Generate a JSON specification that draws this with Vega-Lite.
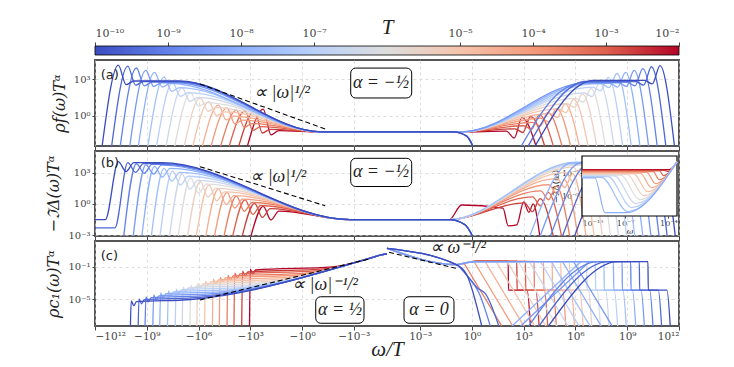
{
"$schema":"https://vega.github.io/schema/vega-lite/v6.json",
"background":"white",
"padding":{"left":44,"top":16,"right":5,"bottom":2},
"config":{"font":"DejaVu Serif","view":{"stroke":"#555","strokeWidth":2},
"axis":{"labelFont":"DejaVu Serif","labelFontSize":10,"labelColor":"#444","titleFont":"DejaVu Serif","titleFontWeight":"normal","titleColor":"#222","domain":false,"gridColor":"#cfcfcf","gridDash":[3,3],"gridWidth":0.7,"tickColor":"#444"}},
"datasets":{
"a":[
{"T":0.01,"s":"l","x":-1580,"y":0.0025},{"T":0.01,"s":"l","x":-178,"y":3.55},{"T":0.01,"s":"l","x":-63.1,"y":0.0282},{"T":0.01,"s":"l","x":-22.4,"y":0.0631},{"T":0.01,"s":"l","x":-0.072,"y":0.0501},{"T":0.01,"s":"l","x":0,"y":0.0501},
{"T":0.01,"s":"r","x":0,"y":0.0501},{"T":0.01,"s":"r","x":0.251,"y":0.0501},{"T":0.01,"s":"r","x":100,"y":0.0575},{"T":0.01,"s":"r","x":282,"y":0.0158},{"T":0.01,"s":"r","x":794,"y":0.724},{"T":0.01,"s":"r","x":5620,"y":0.0025},
{"T":0.00316,"s":"l","x":-5010,"y":0.0025},{"T":0.00316,"s":"l","x":-562,"y":2.57},{"T":0.00316,"s":"l","x":-200,"y":0.0407},{"T":0.00316,"s":"l","x":-70.8,"y":0.0813},{"T":0.00316,"s":"l","x":-0.072,"y":0.0501},{"T":0.00316,"s":"l","x":0,"y":0.0501},
{"T":0.00316,"s":"r","x":0,"y":0.0501},{"T":0.00316,"s":"r","x":0.251,"y":0.0501},{"T":0.00316,"s":"r","x":316,"y":0.0891},{"T":0.00316,"s":"r","x":891,"y":0.0447},{"T":0.00316,"s":"r","x":2510,"y":0.891},{"T":0.00316,"s":"r","x":17800,"y":0.0025},
{"T":0.001,"s":"l","x":-17800,"y":0.0025},{"T":0.001,"s":"l","x":-2000,"y":2.63},{"T":0.001,"s":"l","x":-708,"y":0.0661},{"T":0.001,"s":"l","x":-251,"y":0.132},{"T":0.001,"s":"l","x":-0.072,"y":0.0501},{"T":0.001,"s":"l","x":0,"y":0.0501},
{"T":0.001,"s":"r","x":0,"y":0.0501},{"T":0.001,"s":"r","x":0.251,"y":0.0501},{"T":0.001,"s":"r","x":1000,"y":0.158},{"T":0.001,"s":"r","x":2820,"y":0.0794},{"T":0.001,"s":"r","x":7940,"y":1.26},{"T":0.001,"s":"r","x":56200,"y":0.0025},
{"T":3.16e-4,"s":"l","x":-56200,"y":0.0025},{"T":3.16e-4,"s":"l","x":-6310,"y":2.95},{"T":3.16e-4,"s":"l","x":-2240,"y":0.117},{"T":3.16e-4,"s":"l","x":-794,"y":0.234},{"T":3.16e-4,"s":"l","x":-0.072,"y":0.0501},{"T":3.16e-4,"s":"l","x":0,"y":0.0501},
{"T":3.16e-4,"s":"r","x":0,"y":0.0501},{"T":3.16e-4,"s":"r","x":0.251,"y":0.0501},{"T":3.16e-4,"s":"r","x":3160,"y":0.302},{"T":3.16e-4,"s":"r","x":8910,"y":0.151},{"T":3.16e-4,"s":"r","x":25100,"y":1.91},{"T":3.16e-4,"s":"r","x":178000,"y":0.0025},
{"T":1e-4,"s":"l","x":-200000,"y":0.0025},{"T":1e-4,"s":"l","x":-22400,"y":4.57},{"T":1e-4,"s":"l","x":-7940,"y":0.229},{"T":1e-4,"s":"l","x":-2820,"y":0.457},{"T":1e-4,"s":"l","x":-0.072,"y":0.0501},{"T":1e-4,"s":"l","x":0,"y":0.0501},
{"T":1e-4,"s":"r","x":0,"y":0.0501},{"T":1e-4,"s":"r","x":0.251,"y":0.0501},{"T":1e-4,"s":"r","x":10000,"y":0.646},{"T":1e-4,"s":"r","x":28200,"y":0.324},{"T":1e-4,"s":"r","x":79400,"y":4.07},{"T":1e-4,"s":"r","x":562000,"y":0.0025},
{"T":3.16e-5,"s":"l","x":-631000,"y":0.0025},{"T":3.16e-5,"s":"l","x":-70800,"y":7.41},{"T":3.16e-5,"s":"l","x":-25100,"y":0.468},{"T":3.16e-5,"s":"l","x":-8910,"y":0.933},{"T":3.16e-5,"s":"l","x":-0.072,"y":0.0501},{"T":3.16e-5,"s":"l","x":0,"y":0.0501},
{"T":3.16e-5,"s":"r","x":0,"y":0.0501},{"T":3.16e-5,"s":"r","x":0.251,"y":0.0501},{"T":3.16e-5,"s":"r","x":31600,"y":1.51},{"T":3.16e-5,"s":"r","x":89100,"y":0.759},{"T":3.16e-5,"s":"r","x":251000,"y":9.55},{"T":3.16e-5,"s":"r","x":1780000,"y":0.0025},
{"T":1e-5,"s":"l","x":-2240000,"y":0.0025},{"T":1e-5,"s":"l","x":-251000,"y":14.8},{"T":1e-5,"s":"l","x":-89100,"y":1.05},{"T":1e-5,"s":"l","x":-31600,"y":2.09},{"T":1e-5,"s":"l","x":-0.072,"y":0.0501},{"T":1e-5,"s":"l","x":0,"y":0.0501},
{"T":1e-5,"s":"r","x":0,"y":0.0501},{"T":1e-5,"s":"r","x":0.251,"y":0.0501},{"T":1e-5,"s":"r","x":100000,"y":3.72},{"T":1e-5,"s":"r","x":282000,"y":1.86},{"T":1e-5,"s":"r","x":794000,"y":23.4},{"T":1e-5,"s":"r","x":5620000,"y":0.0025},
{"T":3.16e-6,"s":"l","x":-7080000,"y":0.0025},{"T":3.16e-6,"s":"l","x":-794000,"y":30.2},{"T":3.16e-6,"s":"l","x":-282000,"y":2.4},{"T":3.16e-6,"s":"l","x":-100000,"y":4.79},{"T":3.16e-6,"s":"l","x":-0.072,"y":0.0501},{"T":3.16e-6,"s":"l","x":0,"y":0.0501},
{"T":3.16e-6,"s":"r","x":0,"y":0.0501},{"T":3.16e-6,"s":"r","x":0.251,"y":0.0501},{"T":3.16e-6,"s":"r","x":316000,"y":9.77},{"T":3.16e-6,"s":"r","x":891000,"y":4.9},{"T":3.16e-6,"s":"r","x":2510000,"y":61.7},{"T":3.16e-6,"s":"r","x":17800000,"y":0.0025},
{"T":1e-6,"s":"l","x":-2.51e7,"y":0.0025},{"T":1e-6,"s":"l","x":-2.82e6,"y":75.9},{"T":1e-6,"s":"l","x":-1e6,"y":6.03},{"T":1e-6,"s":"l","x":-355000,"y":12},{"T":1e-6,"s":"l","x":-0.072,"y":0.0501},{"T":1e-6,"s":"l","x":0,"y":0.0501},
{"T":1e-6,"s":"r","x":0,"y":0.0501},{"T":1e-6,"s":"r","x":0.251,"y":0.0501},{"T":1e-6,"s":"r","x":1e6,"y":26.9},{"T":1e-6,"s":"r","x":2.82e6,"y":13.5},{"T":1e-6,"s":"r","x":7.94e6,"y":170},{"T":1e-6,"s":"r","x":5.62e7,"y":0.0025},
{"T":3.16e-7,"s":"l","x":-7.94e7,"y":0.0025},{"T":3.16e-7,"s":"l","x":-8.91e6,"y":191},{"T":3.16e-7,"s":"l","x":-3.16e6,"y":15.1},{"T":3.16e-7,"s":"l","x":-1.12e6,"y":30.2},{"T":3.16e-7,"s":"l","x":-0.072,"y":0.0501},{"T":3.16e-7,"s":"l","x":0,"y":0.0501},
{"T":3.16e-7,"s":"r","x":0,"y":0.0501},{"T":3.16e-7,"s":"r","x":0.251,"y":0.0501},{"T":3.16e-7,"s":"r","x":3.16e6,"y":75.9},{"T":3.16e-7,"s":"r","x":8.91e6,"y":38},{"T":3.16e-7,"s":"r","x":2.51e7,"y":479},{"T":3.16e-7,"s":"r","x":1.78e8,"y":0.0025},
{"T":1e-7,"s":"l","x":-2.82e8,"y":0.0025},{"T":1e-7,"s":"l","x":-3.16e7,"y":501},{"T":1e-7,"s":"l","x":-1.12e7,"y":39.8},{"T":1e-7,"s":"l","x":-3.98e6,"y":79.4},{"T":1e-7,"s":"l","x":-0.072,"y":0.0501},{"T":1e-7,"s":"l","x":0,"y":0.0501},
{"T":1e-7,"s":"r","x":0,"y":0.0501},{"T":1e-7,"s":"r","x":0.251,"y":0.0501},{"T":1e-7,"s":"r","x":1e7,"y":219},{"T":1e-7,"s":"r","x":2.82e7,"y":110},{"T":1e-7,"s":"r","x":7.94e7,"y":1380},{"T":1e-7,"s":"r","x":5.62e8,"y":0.0025},
{"T":3.16e-8,"s":"l","x":-8.91e8,"y":0.0025},{"T":3.16e-8,"s":"l","x":-1e8,"y":1413},{"T":3.16e-8,"s":"l","x":-3.55e7,"y":100},{"T":3.16e-8,"s":"l","x":-1.26e7,"y":200},{"T":3.16e-8,"s":"l","x":-0.072,"y":0.0501},{"T":3.16e-8,"s":"l","x":0,"y":0.0501},
{"T":3.16e-8,"s":"r","x":0,"y":0.0501},{"T":3.16e-8,"s":"r","x":0.251,"y":0.0501},{"T":3.16e-8,"s":"r","x":1.26e7,"y":398},{"T":3.16e-8,"s":"r","x":3.16e7,"y":398},{"T":3.16e-8,"s":"r","x":8.91e7,"y":200},{"T":3.16e-8,"s":"r","x":2.51e8,"y":2818},{"T":3.16e-8,"s":"r","x":1.78e9,"y":0.0025},
{"T":1e-8,"s":"l","x":-3.16e9,"y":0.0025},{"T":1e-8,"s":"l","x":-3.55e8,"y":3548},{"T":1e-8,"s":"l","x":-1.26e8,"y":224},{"T":1e-8,"s":"l","x":-4.47e7,"y":447},{"T":1e-8,"s":"l","x":-0.072,"y":0.0501},{"T":1e-8,"s":"l","x":0,"y":0.0501},
{"T":1e-8,"s":"r","x":0,"y":0.0501},{"T":1e-8,"s":"r","x":0.251,"y":0.0501},{"T":1e-8,"s":"r","x":7.08e6,"y":447},{"T":1e-8,"s":"r","x":1e8,"y":447},{"T":1e-8,"s":"r","x":2.82e8,"y":224},{"T":1e-8,"s":"r","x":7.94e8,"y":3548},{"T":1e-8,"s":"r","x":5.62e9,"y":0.0025},
{"T":3.16e-9,"s":"l","x":-1e10,"y":0.0025},{"T":3.16e-9,"s":"l","x":-1.12e9,"y":5012},{"T":3.16e-9,"s":"l","x":-3.98e8,"y":251},{"T":3.16e-9,"s":"l","x":-1.41e8,"y":501},{"T":3.16e-9,"s":"l","x":-2e7,"y":501},{"T":3.16e-9,"s":"l","x":-0.072,"y":0.0501},{"T":3.16e-9,"s":"l","x":0,"y":0.0501},
{"T":3.16e-9,"s":"r","x":0,"y":0.0501},{"T":3.16e-9,"s":"r","x":0.251,"y":0.0501},{"T":3.16e-9,"s":"r","x":4.47e6,"y":501},{"T":3.16e-9,"s":"r","x":3.16e8,"y":501},{"T":3.16e-9,"s":"r","x":8.91e8,"y":251},{"T":3.16e-9,"s":"r","x":2.51e9,"y":5012},{"T":3.16e-9,"s":"r","x":1.78e10,"y":0.0025},
{"T":1e-9,"s":"l","x":-3.55e10,"y":0.0025},{"T":1e-9,"s":"l","x":-3.98e9,"y":7943},{"T":1e-9,"s":"l","x":-1.41e9,"y":282},{"T":1e-9,"s":"l","x":-5.01e8,"y":562},{"T":1e-9,"s":"l","x":-1.41e7,"y":562},{"T":1e-9,"s":"l","x":-0.072,"y":0.0501},{"T":1e-9,"s":"l","x":0,"y":0.0501},
{"T":1e-9,"s":"r","x":0,"y":0.0501},{"T":1e-9,"s":"r","x":0.079,"y":0.0501},{"T":1e-9,"s":"r","x":0.5,"y":0.0224},{"T":1e-9,"s":"r","x":1.26,"y":0.0025},
{"T":1e-9,"s":"g","x":631,"y":0.0025},{"T":1e-9,"s":"g","x":1.26e5,"y":89.1},{"T":1e-9,"s":"g","x":3.98e6,"y":562},{"T":1e-9,"s":"g","x":1e9,"y":562},{"T":1e-9,"s":"g","x":2.82e9,"y":282},{"T":1e-9,"s":"g","x":7.94e9,"y":7079},{"T":1e-9,"s":"g","x":5.62e10,"y":0.0025},
{"T":3.16e-10,"s":"l","x":-1.12e11,"y":0.0025},{"T":3.16e-10,"s":"l","x":-1.26e10,"y":11200},{"T":3.16e-10,"s":"l","x":-4.47e9,"y":316},{"T":3.16e-10,"s":"l","x":-1.58e9,"y":631},{"T":3.16e-10,"s":"l","x":-1.26e7,"y":631},{"T":3.16e-10,"s":"l","x":-0.072,"y":0.0501},{"T":3.16e-10,"s":"l","x":0,"y":0.0501},
{"T":3.16e-10,"s":"r","x":0,"y":0.0501},{"T":3.16e-10,"s":"r","x":0.079,"y":0.0501},{"T":3.16e-10,"s":"r","x":0.5,"y":0.0224},{"T":3.16e-10,"s":"r","x":1.26,"y":0.0025},
{"T":3.16e-10,"s":"g","x":1580,"y":0.0025},{"T":3.16e-10,"s":"g","x":5.01e5,"y":200},{"T":3.16e-10,"s":"g","x":3.16e6,"y":631},{"T":3.16e-10,"s":"g","x":3.16e9,"y":631},{"T":3.16e-10,"s":"g","x":8.91e9,"y":316},{"T":3.16e-10,"s":"g","x":2.51e10,"y":10000},{"T":3.16e-10,"s":"g","x":1.78e11,"y":0.0025},
{"T":1e-10,"s":"l","x":-3.98e11,"y":0.0025},{"T":1e-10,"s":"l","x":-4.47e10,"y":13800},{"T":1e-10,"s":"l","x":-1.58e10,"y":347},{"T":1e-10,"s":"l","x":-5.62e9,"y":692},{"T":1e-10,"s":"l","x":-1.41e7,"y":692},{"T":1e-10,"s":"l","x":-0.072,"y":0.0501},{"T":1e-10,"s":"l","x":0,"y":0.0501},
{"T":1e-10,"s":"r","x":0,"y":0.0501},{"T":1e-10,"s":"r","x":0.079,"y":0.0501},{"T":1e-10,"s":"r","x":0.5,"y":0.0224},{"T":1e-10,"s":"r","x":1.26,"y":0.0025},
{"T":1e-10,"s":"g","x":3980,"y":0.0025},{"T":1e-10,"s":"g","x":2e6,"y":355},{"T":1e-10,"s":"g","x":1e7,"y":794},{"T":1e-10,"s":"g","x":1e10,"y":794},{"T":1e-10,"s":"g","x":2.82e10,"y":398},{"T":1e-10,"s":"g","x":7.94e10,"y":12600},{"T":1e-10,"s":"g","x":5.62e11,"y":0.0025}
],
"b":[
{"T":0.01,"s":"l","x":-1000,"y":0.0005},{"T":0.01,"s":"l","x":-178,"y":0.575},{"T":0.01,"s":"l","x":-63.1,"y":0.0295},{"T":0.01,"s":"l","x":-22.4,"y":0.209},{"T":0.01,"s":"l","x":-0.00174,"y":0.0316},{"T":0.01,"s":"l","x":0,"y":0.0316},
{"T":0.01,"s":"r","x":0,"y":0.0316},{"T":0.01,"s":"r","x":0.05,"y":0.0316},{"T":0.01,"s":"r","x":0.251,"y":0.794},{"T":0.01,"s":"r","x":63.1,"y":0.398},{"T":0.01,"s":"r","x":126,"y":0.00794},{"T":0.01,"s":"r","x":398,"y":0.01},{"T":0.01,"s":"r","x":1000,"y":1.58},{"T":0.01,"s":"r","x":2000,"y":0.158},{"T":0.01,"s":"r","x":3550,"y":1.0},{"T":0.01,"s":"r","x":8910,"y":0.0005},
{"T":0.00316,"s":"l","x":-3160,"y":0.0005},{"T":0.00316,"s":"l","x":-562,"y":1.12},{"T":0.00316,"s":"l","x":-200,"y":0.0513},{"T":0.00316,"s":"l","x":-70.8,"y":0.363},{"T":0.00316,"s":"l","x":-0.00174,"y":0.0316},{"T":0.00316,"s":"l","x":0,"y":0.0316},
{"T":0.00316,"s":"r","x":0,"y":0.0316},{"T":0.00316,"s":"r","x":0.05,"y":0.0316},{"T":0.00316,"s":"r","x":1120,"y":1.29},{"T":0.00316,"s":"r","x":3160,"y":0.182},{"T":0.00316,"s":"r","x":8910,"y":3.16},{"T":0.00316,"s":"r","x":56200,"y":0.0005},
{"T":0.001,"s":"l","x":-11200,"y":0.0005},{"T":0.001,"s":"l","x":-2000,"y":2.51},{"T":0.001,"s":"l","x":-708,"y":0.1},{"T":0.001,"s":"l","x":-251,"y":0.708},{"T":0.001,"s":"l","x":-0.00174,"y":0.0316},{"T":0.001,"s":"l","x":0,"y":0.0316},
{"T":0.001,"s":"r","x":0,"y":0.0316},{"T":0.001,"s":"r","x":0.05,"y":0.0316},{"T":0.001,"s":"r","x":3310,"y":4.68},{"T":0.001,"s":"r","x":9330,"y":0.661},{"T":0.001,"s":"r","x":26300,"y":12.6},{"T":0.001,"s":"r","x":166000,"y":0.0005},
{"T":3.16e-4,"s":"l","x":-35500,"y":0.0005},{"T":3.16e-4,"s":"l","x":-6310,"y":5.62},{"T":3.16e-4,"s":"l","x":-2240,"y":0.195},{"T":3.16e-4,"s":"l","x":-794,"y":1.38},{"T":3.16e-4,"s":"l","x":-0.00174,"y":0.0316},{"T":3.16e-4,"s":"l","x":0,"y":0.0316},
{"T":3.16e-4,"s":"r","x":0,"y":0.0316},{"T":3.16e-4,"s":"r","x":0.05,"y":0.0316},{"T":3.16e-4,"s":"r","x":9770,"y":17.8},{"T":3.16e-4,"s":"r","x":27500,"y":2.51},{"T":3.16e-4,"s":"r","x":77600,"y":50.1},{"T":3.16e-4,"s":"r","x":490000,"y":0.0005},
{"T":1e-4,"s":"l","x":-126000,"y":0.0005},{"T":1e-4,"s":"l","x":-22400,"y":12.6},{"T":1e-4,"s":"l","x":-7940,"y":0.407},{"T":1e-4,"s":"l","x":-2820,"y":2.88},{"T":1e-4,"s":"l","x":-0.00174,"y":0.0316},{"T":1e-4,"s":"l","x":0,"y":0.0316},
{"T":1e-4,"s":"r","x":0,"y":0.0316},{"T":1e-4,"s":"r","x":0.05,"y":0.0316},{"T":1e-4,"s":"r","x":28800,"y":69.2},{"T":1e-4,"s":"r","x":81300,"y":9.77},{"T":1e-4,"s":"r","x":229000,"y":200},{"T":1e-4,"s":"r","x":1450000,"y":0.0005},
{"T":3.16e-5,"s":"l","x":-398000,"y":0.0005},{"T":3.16e-5,"s":"l","x":-70800,"y":28.2},{"T":3.16e-5,"s":"l","x":-25100,"y":0.871},{"T":3.16e-5,"s":"l","x":-8910,"y":6.17},{"T":3.16e-5,"s":"l","x":-0.00174,"y":0.0316},{"T":3.16e-5,"s":"l","x":0,"y":0.0316},
{"T":3.16e-5,"s":"r","x":0,"y":0.0316},{"T":3.16e-5,"s":"r","x":0.05,"y":0.0316},{"T":3.16e-5,"s":"r","x":85100,"y":263},{"T":3.16e-5,"s":"r","x":240000,"y":37.2},{"T":3.16e-5,"s":"r","x":676000,"y":794},{"T":3.16e-5,"s":"r","x":4270000,"y":0.0005},
{"T":1e-5,"s":"l","x":-1410000,"y":0.0005},{"T":1e-5,"s":"l","x":-251000,"y":63.1},{"T":1e-5,"s":"l","x":-89100,"y":2.0},{"T":1e-5,"s":"l","x":-31600,"y":14.1},{"T":1e-5,"s":"l","x":-0.00174,"y":0.0316},{"T":1e-5,"s":"l","x":0,"y":0.0316},
{"T":1e-5,"s":"r","x":0,"y":0.0316},{"T":1e-5,"s":"r","x":0.05,"y":0.0316},{"T":1e-5,"s":"r","x":251000,"y":977},{"T":1e-5,"s":"r","x":708000,"y":138},{"T":1e-5,"s":"r","x":2e6,"y":2512},{"T":1e-5,"s":"r","x":1.26e7,"y":0.0005},
{"T":3.16e-6,"s":"l","x":-4470000,"y":0.0005},{"T":3.16e-6,"s":"l","x":-794000,"y":141},{"T":3.16e-6,"s":"l","x":-282000,"y":4.47},{"T":3.16e-6,"s":"l","x":-100000,"y":31.6},{"T":3.16e-6,"s":"l","x":-0.00174,"y":0.0316},{"T":3.16e-6,"s":"l","x":0,"y":0.0316},
{"T":3.16e-6,"s":"r","x":0,"y":0.0316},{"T":3.16e-6,"s":"r","x":0.05,"y":0.0316},{"T":3.16e-6,"s":"r","x":741000,"y":3311},{"T":3.16e-6,"s":"r","x":2.09e6,"y":468},{"T":3.16e-6,"s":"r","x":5.89e6,"y":7943},{"T":3.16e-6,"s":"r","x":3.72e7,"y":0.0005},
{"T":1e-6,"s":"l","x":-1.58e7,"y":0.0005},{"T":1e-6,"s":"l","x":-2.82e6,"y":316},{"T":1e-6,"s":"l","x":-1e6,"y":11},{"T":1e-6,"s":"l","x":-355000,"y":77.6},{"T":1e-6,"s":"l","x":-0.00174,"y":0.0316},{"T":1e-6,"s":"l","x":0,"y":0.0316},
{"T":1e-6,"s":"r","x":0,"y":0.0316},{"T":1e-6,"s":"r","x":0.05,"y":0.0316},{"T":1e-6,"s":"r","x":832000,"y":5012},{"T":1e-6,"s":"r","x":2.19e6,"y":5012},{"T":1e-6,"s":"r","x":6.17e6,"y":708},{"T":1e-6,"s":"r","x":1.74e7,"y":12600},{"T":1e-6,"s":"r","x":1.1e8,"y":0.0005},
{"T":3.16e-7,"s":"l","x":-5.01e7,"y":0.0005},{"T":3.16e-7,"s":"l","x":-8.91e6,"y":708},{"T":3.16e-7,"s":"l","x":-3.16e6,"y":25.7},{"T":3.16e-7,"s":"l","x":-1.12e6,"y":182},{"T":3.16e-7,"s":"l","x":-0.00174,"y":0.0316},{"T":3.16e-7,"s":"l","x":0,"y":0.0316},
{"T":3.16e-7,"s":"r","x":0,"y":0.0316},{"T":3.16e-7,"s":"r","x":0.05,"y":0.0316},{"T":3.16e-7,"s":"r","x":724000,"y":6310},{"T":3.16e-7,"s":"r","x":6.46e6,"y":6310},{"T":3.16e-7,"s":"r","x":1.82e7,"y":891},{"T":3.16e-7,"s":"r","x":5.13e7,"y":15800},{"T":3.16e-7,"s":"r","x":3.24e8,"y":0.0005},
{"T":1e-7,"s":"l","x":-1.78e8,"y":0.0005},{"T":1e-7,"s":"l","x":-3.16e7,"y":1413},{"T":1e-7,"s":"l","x":-1.12e7,"y":63.1},{"T":1e-7,"s":"l","x":-3.98e6,"y":447},{"T":1e-7,"s":"l","x":-0.00174,"y":0.0316},{"T":1e-7,"s":"l","x":0,"y":0.0316},
{"T":1e-7,"s":"r","x":0,"y":0.0316},{"T":1e-7,"s":"r","x":0.05,"y":0.0316},{"T":1e-7,"s":"r","x":794000,"y":7943},{"T":1e-7,"s":"r","x":1.91e7,"y":7943},{"T":1e-7,"s":"r","x":5.37e7,"y":1122},{"T":1e-7,"s":"r","x":1.51e8,"y":20000},{"T":1e-7,"s":"r","x":9.55e8,"y":0.0005},
{"T":3.16e-8,"s":"l","x":-5.62e8,"y":0.0005},{"T":3.16e-8,"s":"l","x":-1e8,"y":2512},{"T":3.16e-8,"s":"l","x":-3.55e7,"y":151},{"T":3.16e-8,"s":"l","x":-1.26e7,"y":1072},{"T":3.16e-8,"s":"l","x":-0.00174,"y":0.0316},{"T":3.16e-8,"s":"l","x":0,"y":0.0316},
{"T":3.16e-8,"s":"r","x":0,"y":0.0316},{"T":3.16e-8,"s":"r","x":0.05,"y":0.0316},{"T":3.16e-8,"s":"r","x":1.07e6,"y":10000},{"T":3.16e-8,"s":"r","x":5.62e7,"y":10000},{"T":3.16e-8,"s":"r","x":1.58e8,"y":1413},{"T":3.16e-8,"s":"r","x":4.47e8,"y":25100},{"T":3.16e-8,"s":"r","x":2.82e9,"y":0.0005},
{"T":1e-8,"s":"l","x":-2e9,"y":0.0005},{"T":1e-8,"s":"l","x":-3.55e8,"y":3981},{"T":1e-8,"s":"l","x":-1.26e8,"y":363},{"T":1e-8,"s":"l","x":-4.47e7,"y":2570},{"T":1e-8,"s":"l","x":-0.00174,"y":0.0316},{"T":1e-8,"s":"l","x":0,"y":0.0316},
{"T":1e-8,"s":"r","x":0,"y":0.0316},{"T":1e-8,"s":"r","x":0.05,"y":0.0316},{"T":1e-8,"s":"r","x":0.398,"y":0.01},{"T":1e-8,"s":"r","x":1.26,"y":0.0005},
{"T":1e-8,"s":"g","x":2000,"y":0.0005},{"T":1e-8,"s":"g","x":562000,"y":7943},{"T":1e-8,"s":"g","x":1.66e8,"y":7943},{"T":1e-8,"s":"g","x":4.68e8,"y":1122},{"T":1e-8,"s":"g","x":1.32e9,"y":15800},{"T":1e-8,"s":"g","x":8.32e9,"y":0.0005},
{"T":3.16e-9,"s":"l","x":-6.31e9,"y":0.0005},{"T":3.16e-9,"s":"l","x":-1.12e9,"y":5623},{"T":3.16e-9,"s":"l","x":-3.98e8,"y":724},{"T":3.16e-9,"s":"l","x":-1.41e8,"y":5129},{"T":3.16e-9,"s":"l","x":-0.00174,"y":0.0316},{"T":3.16e-9,"s":"l","x":0,"y":0.0316},
{"T":3.16e-9,"s":"r","x":0,"y":0.0316},{"T":3.16e-9,"s":"r","x":0.05,"y":0.0316},{"T":3.16e-9,"s":"r","x":0.398,"y":0.01},{"T":3.16e-9,"s":"r","x":1.26,"y":0.0005},
{"T":3.16e-9,"s":"g","x":7940,"y":0.0005},{"T":3.16e-9,"s":"g","x":2.24e6,"y":8913},{"T":3.16e-9,"s":"g","x":4.9e8,"y":8913},{"T":3.16e-9,"s":"g","x":1.38e9,"y":1259},{"T":3.16e-9,"s":"g","x":3.89e9,"y":17800},{"T":3.16e-9,"s":"g","x":2.45e10,"y":0.0005},
{"T":1e-9,"s":"l","x":-2.24e10,"y":0.0005},{"T":1e-9,"s":"l","x":-3.98e9,"y":7079},{"T":1e-9,"s":"l","x":-1.41e9,"y":871},{"T":1e-9,"s":"l","x":-5.01e8,"y":6166},{"T":1e-9,"s":"l","x":-1.02e8,"y":6166},{"T":1e-9,"s":"l","x":-0.00174,"y":0.0316},{"T":1e-9,"s":"l","x":0,"y":0.0316},
{"T":1e-9,"s":"r","x":0,"y":0.0316},{"T":1e-9,"s":"r","x":0.05,"y":0.0316},{"T":1e-9,"s":"r","x":0.398,"y":0.01},{"T":1e-9,"s":"r","x":1.26,"y":0.0005},
{"T":1e-9,"s":"g","x":31600,"y":0.0005},{"T":1e-9,"s":"g","x":8.91e6,"y":10000},{"T":1e-9,"s":"g","x":1.45e9,"y":10000},{"T":1e-9,"s":"g","x":4.07e9,"y":1413},{"T":1e-9,"s":"g","x":1.15e10,"y":20000},{"T":1e-9,"s":"g","x":7.24e10,"y":0.0005},
{"T":3.16e-10,"s":"l","x":-1e12,"y":0.00501},{"T":3.16e-10,"s":"l","x":-7.08e10,"y":0.00501},{"T":3.16e-10,"s":"l","x":-1.26e10,"y":8913},{"T":3.16e-10,"s":"l","x":-4.47e9,"y":1047},{"T":3.16e-10,"s":"l","x":-1.58e9,"y":7413},{"T":3.16e-10,"s":"l","x":-1.1e8,"y":7413},{"T":3.16e-10,"s":"l","x":-0.00174,"y":0.0316},{"T":3.16e-10,"s":"l","x":0,"y":0.0316},
{"T":3.16e-10,"s":"r","x":0,"y":0.0316},{"T":3.16e-10,"s":"r","x":0.05,"y":0.0316},{"T":3.16e-10,"s":"r","x":0.398,"y":0.01},{"T":3.16e-10,"s":"r","x":1.26,"y":0.0005},
{"T":3.16e-10,"s":"g","x":158000,"y":0.0005},{"T":3.16e-10,"s":"g","x":4.47e7,"y":10000},{"T":3.16e-10,"s":"g","x":4.27e9,"y":10000},{"T":3.16e-10,"s":"g","x":1.2e10,"y":1413},{"T":3.16e-10,"s":"g","x":3.39e10,"y":20000},{"T":3.16e-10,"s":"g","x":2.14e11,"y":0.0005},
{"T":1e-10,"s":"l","x":-1e12,"y":0.0316},{"T":1e-10,"s":"l","x":-2.51e11,"y":0.0316},{"T":1e-10,"s":"l","x":-4.47e10,"y":11200},{"T":1e-10,"s":"l","x":-1.58e10,"y":1259},{"T":1e-10,"s":"l","x":-5.62e9,"y":8913},{"T":1e-10,"s":"l","x":-1.38e8,"y":8913},{"T":1e-10,"s":"l","x":-0.00174,"y":0.0316},{"T":1e-10,"s":"l","x":0,"y":0.0316},
{"T":1e-10,"s":"r","x":0,"y":0.0316},{"T":1e-10,"s":"r","x":0.05,"y":0.0316},{"T":1e-10,"s":"r","x":0.398,"y":0.01},{"T":1e-10,"s":"r","x":1.26,"y":0.0005},
{"T":1e-10,"s":"g","x":794000,"y":0.0005},{"T":1e-10,"s":"g","x":2.24e8,"y":10000},{"T":1e-10,"s":"g","x":1.26e10,"y":10000},{"T":1e-10,"s":"g","x":3.55e10,"y":1413},{"T":1e-10,"s":"g","x":1e11,"y":20000},{"T":1e-10,"s":"g","x":6.31e11,"y":0.0005}
],
"ins":[
{"T":0.01,"x":1e-10,"y":6.31e-4},{"T":0.01,"x":1.15e-4,"y":6.31e-4},{"T":0.01,"x":3.98e-4,"y":0.0288},
{"T":0.00316,"x":1e-10,"y":4.47e-4},{"T":0.00316,"x":5.01e-5,"y":4.47e-4},{"T":0.00316,"x":1e-4,"y":2.51e-4},{"T":0.00316,"x":3.98e-4,"y":0.0288},
{"T":0.001,"x":1e-10,"y":3.16e-4},{"T":0.001,"x":2.51e-5,"y":3.16e-4},{"T":0.001,"x":4.47e-5,"y":3.24e-5},{"T":0.001,"x":3.98e-4,"y":0.0288},
{"T":3.16e-4,"x":1e-10,"y":2.24e-4},{"T":3.16e-4,"x":8.91e-6,"y":2.24e-4},{"T":3.16e-4,"x":2.34e-5,"y":4.47e-6},{"T":3.16e-4,"x":3.98e-4,"y":0.0288},
{"T":1e-4,"x":1e-10,"y":1.58e-4},{"T":1e-4,"x":3.16e-6,"y":1.58e-4},{"T":1e-4,"x":1.26e-5,"y":6.46e-7},{"T":1e-4,"x":3.98e-4,"y":0.0288},
{"T":3.16e-5,"x":1e-10,"y":1.12e-4},{"T":3.16e-5,"x":1.12e-6,"y":1.12e-4},{"T":3.16e-5,"x":6.61e-6,"y":8.91e-8},{"T":3.16e-5,"x":3.98e-4,"y":0.0288},
{"T":1e-5,"x":1e-10,"y":7.94e-5},{"T":1e-5,"x":3.98e-7,"y":7.94e-5},{"T":1e-5,"x":3.55e-6,"y":1.26e-8},{"T":1e-5,"x":3.98e-4,"y":0.0288},
{"T":3.16e-6,"x":1e-10,"y":5.62e-5},{"T":3.16e-6,"x":1.41e-7,"y":5.62e-5},{"T":3.16e-6,"x":1.91e-6,"y":1.78e-9},{"T":3.16e-6,"x":3.98e-4,"y":0.0288},
{"T":1e-6,"x":1e-10,"y":3.98e-5},{"T":1e-6,"x":5.01e-8,"y":3.98e-5},{"T":1e-6,"x":1e-6,"y":2.51e-10},{"T":1e-6,"x":3.98e-4,"y":0.0288},
{"T":3.16e-7,"x":1e-10,"y":2.82e-5},{"T":3.16e-7,"x":1.78e-8,"y":2.82e-5},{"T":3.16e-7,"x":5.37e-7,"y":3.55e-11},{"T":3.16e-7,"x":3.98e-4,"y":0.0288},
{"T":1e-7,"x":1e-10,"y":2e-5},{"T":1e-7,"x":6.31e-9,"y":2e-5},{"T":1e-7,"x":2.82e-7,"y":5.01e-12},{"T":1e-7,"x":3.98e-4,"y":0.0288},
{"T":3.16e-8,"x":1e-10,"y":1.41e-5},{"T":3.16e-8,"x":2.24e-9,"y":1.41e-5},{"T":3.16e-8,"x":1.51e-7,"y":7.24e-13},{"T":3.16e-8,"x":3.98e-4,"y":0.0288},
{"T":1e-8,"x":1e-10,"y":1e-5},{"T":1e-8,"x":7.94e-10,"y":1e-5},{"T":1e-8,"x":3.98e-9,"y":3.98e-13},{"T":1e-8,"x":1.26e-7,"y":3.98e-13},{"T":1e-8,"x":3.98e-4,"y":0.0288}
],
"c":[
{"T":0.01,"s":"l","x":-1120,"y":2.51e-9},{"T":0.01,"s":"l","x":-1000,"y":0.049},{"T":0.01,"s":"l","x":-708,"y":0.0123},{"T":0.01,"s":"l","x":-501,"y":0.0389},{"T":0.01,"s":"l","x":-0.0166,"y":0.0933},{"T":0.01,"s":"l","x":-1e-4,"y":1.15},{"T":0.01,"s":"l","x":-1e-5,"y":3.16},{"T":0.01,"s":"l","x":-1e-7,"y":3.72},
{"T":0.01,"s":"r","x":1e-7,"y":18.6},{"T":0.01,"s":"r","x":0.126,"y":0.178},{"T":0.01,"s":"r","x":0.5,"y":0.316},{"T":0.01,"s":"r","x":2,"y":0.501},{"T":0.01,"s":"r","x":126,"y":0.501},{"T":0.01,"s":"r","x":132,"y":1.26e-4},{"T":0.01,"s":"r","x":1580,"y":1.26e-4},{"T":0.01,"s":"r","x":2510,"y":2.51e-9},
{"T":0.00316,"s":"l","x":-3160,"y":2.51e-9},{"T":0.00316,"s":"l","x":-2820,"y":0.0275},{"T":0.00316,"s":"l","x":-2000,"y":0.00692},{"T":0.00316,"s":"l","x":-1410,"y":0.0219},{"T":0.00316,"s":"l","x":-0.055,"y":0.0525},{"T":0.00316,"s":"l","x":-1e-4,"y":1.15},{"T":0.00316,"s":"l","x":-1e-5,"y":3.16},{"T":0.00316,"s":"l","x":-1e-7,"y":3.72},
{"T":0.00316,"s":"r","x":1e-7,"y":18.6},{"T":0.00316,"s":"r","x":0.126,"y":0.178},{"T":0.00316,"s":"r","x":0.5,"y":0.316},{"T":0.00316,"s":"r","x":2,"y":0.479},{"T":0.00316,"s":"r","x":398,"y":0.479},{"T":0.00316,"s":"r","x":417,"y":1.26e-4},{"T":0.00316,"s":"r","x":5010,"y":1.26e-4},{"T":0.00316,"s":"r","x":7940,"y":2.51e-9},
{"T":0.001,"s":"l","x":-8910,"y":2.51e-9},{"T":0.001,"s":"l","x":-7940,"y":0.0158},{"T":0.001,"s":"l","x":-5620,"y":0.00398},{"T":0.001,"s":"l","x":-3980,"y":0.0126},{"T":0.001,"s":"l","x":-0.174,"y":0.0295},{"T":0.001,"s":"l","x":-1e-4,"y":1.15},{"T":0.001,"s":"l","x":-1e-5,"y":3.16},{"T":0.001,"s":"l","x":-1e-7,"y":3.72},
{"T":0.001,"s":"r","x":1e-7,"y":18.6},{"T":0.001,"s":"r","x":0.126,"y":0.178},{"T":0.001,"s":"r","x":0.5,"y":0.316},{"T":0.001,"s":"r","x":2,"y":0.457},{"T":0.001,"s":"r","x":1260,"y":0.457},{"T":0.001,"s":"r","x":1320,"y":1.26e-4},{"T":0.001,"s":"r","x":15800,"y":1.26e-4},{"T":0.001,"s":"r","x":25100,"y":2.51e-9},
{"T":3.16e-4,"s":"l","x":-22400,"y":2.51e-9},{"T":3.16e-4,"s":"l","x":-20000,"y":0.00891},{"T":3.16e-4,"s":"l","x":-14100,"y":0.00224},{"T":3.16e-4,"s":"l","x":-10000,"y":0.00708},{"T":3.16e-4,"s":"l","x":-0.589,"y":0.0162},{"T":3.16e-4,"s":"l","x":-1e-4,"y":1.15},{"T":3.16e-4,"s":"l","x":-1e-5,"y":3.16},{"T":3.16e-4,"s":"l","x":-1e-7,"y":3.72},
{"T":3.16e-4,"s":"r","x":1e-7,"y":18.6},{"T":3.16e-4,"s":"r","x":0.126,"y":0.178},{"T":3.16e-4,"s":"r","x":0.5,"y":0.316},{"T":3.16e-4,"s":"r","x":2,"y":0.437},{"T":3.16e-4,"s":"r","x":3980,"y":0.437},{"T":3.16e-4,"s":"r","x":4170,"y":1.26e-4},{"T":3.16e-4,"s":"r","x":50100,"y":1.26e-4},{"T":3.16e-4,"s":"r","x":79400,"y":2.51e-9},
{"T":3.16e-4,"s":"d","x":0.316,"y":0.38},{"T":3.16e-4,"s":"d","x":63.1,"y":2.51e-9},
{"T":1e-4,"s":"l","x":-63100,"y":2.51e-9},{"T":1e-4,"s":"l","x":-56200,"y":0.00513},{"T":1e-4,"s":"l","x":-39800,"y":0.00129},{"T":1e-4,"s":"l","x":-28200,"y":0.00407},{"T":1e-4,"s":"l","x":-1.86,"y":0.00933},{"T":1e-4,"s":"l","x":-1e-4,"y":1.15},{"T":1e-4,"s":"l","x":-1e-5,"y":3.16},{"T":1e-4,"s":"l","x":-1e-7,"y":3.72},
{"T":1e-4,"s":"r","x":1e-7,"y":18.6},{"T":1e-4,"s":"r","x":0.126,"y":0.178},{"T":1e-4,"s":"r","x":0.5,"y":0.316},{"T":1e-4,"s":"r","x":2,"y":0.427},{"T":1e-4,"s":"r","x":14100,"y":0.427},{"T":1e-4,"s":"r","x":14800,"y":1.26e-4},{"T":1e-4,"s":"r","x":178000,"y":1.26e-4},{"T":1e-4,"s":"r","x":282000,"y":2.51e-9},
{"T":1e-4,"s":"d","x":1.38,"y":0.38},{"T":1e-4,"s":"d","x":275,"y":2.51e-9},
{"T":3.16e-5,"s":"l","x":-158000,"y":2.51e-9},{"T":3.16e-5,"s":"l","x":-141000,"y":0.00288},{"T":3.16e-5,"s":"l","x":-100000,"y":7.24e-4},{"T":3.16e-5,"s":"l","x":-70800,"y":0.00229},{"T":3.16e-5,"s":"l","x":-6.31,"y":0.00513},{"T":3.16e-5,"s":"l","x":-1e-4,"y":1.15},{"T":3.16e-5,"s":"l","x":-1e-5,"y":3.16},{"T":3.16e-5,"s":"l","x":-1e-7,"y":3.72},
{"T":3.16e-5,"s":"r","x":1e-7,"y":18.6},{"T":3.16e-5,"s":"r","x":0.126,"y":0.178},{"T":3.16e-5,"s":"r","x":0.5,"y":0.316},{"T":3.16e-5,"s":"r","x":2,"y":0.417},{"T":3.16e-5,"s":"r","x":44700,"y":0.417},{"T":3.16e-5,"s":"r","x":46800,"y":1.26e-4},{"T":3.16e-5,"s":"r","x":562000,"y":1.26e-4},{"T":3.16e-5,"s":"r","x":891000,"y":2.51e-9},
{"T":3.16e-5,"s":"d","x":6.03,"y":0.38},{"T":3.16e-5,"s":"d","x":1200,"y":2.51e-9},
{"T":1e-5,"s":"l","x":-447000,"y":2.51e-9},{"T":1e-5,"s":"l","x":-398000,"y":0.00166},{"T":1e-5,"s":"l","x":-282000,"y":4.17e-4},{"T":1e-5,"s":"l","x":-200000,"y":0.00132},{"T":1e-5,"s":"l","x":-20,"y":0.00288},{"T":1e-5,"s":"l","x":-1e-4,"y":1.15},{"T":1e-5,"s":"l","x":-1e-5,"y":3.16},{"T":1e-5,"s":"l","x":-1e-7,"y":3.72},
{"T":1e-5,"s":"r","x":1e-7,"y":18.6},{"T":1e-5,"s":"r","x":0.126,"y":0.178},{"T":1e-5,"s":"r","x":0.5,"y":0.316},{"T":1e-5,"s":"r","x":2,"y":0.417},{"T":1e-5,"s":"r","x":141000,"y":0.417},{"T":1e-5,"s":"r","x":148000,"y":1.26e-4},{"T":1e-5,"s":"r","x":1780000,"y":1.26e-4},{"T":1e-5,"s":"r","x":2820000,"y":2.51e-9},
{"T":1e-5,"s":"d","x":26.3,"y":0.38},{"T":1e-5,"s":"d","x":5250,"y":2.51e-9},
{"T":3.16e-6,"s":"l","x":-1260000,"y":2.51e-9},{"T":3.16e-6,"s":"l","x":-1120000,"y":9.33e-4},{"T":3.16e-6,"s":"l","x":-794000,"y":2.34e-4},{"T":3.16e-6,"s":"l","x":-562000,"y":7.41e-4},{"T":3.16e-6,"s":"l","x":-66.1,"y":0.00162},{"T":3.16e-6,"s":"l","x":-1e-4,"y":1.15},{"T":3.16e-6,"s":"l","x":-1e-5,"y":3.16},{"T":3.16e-6,"s":"l","x":-1e-7,"y":3.72},
{"T":3.16e-6,"s":"r","x":1e-7,"y":18.6},{"T":3.16e-6,"s":"r","x":0.126,"y":0.178},{"T":3.16e-6,"s":"r","x":0.5,"y":0.316},{"T":3.16e-6,"s":"r","x":2,"y":0.417},{"T":3.16e-6,"s":"r","x":447000,"y":0.417},{"T":3.16e-6,"s":"r","x":468000,"y":1.26e-4},{"T":3.16e-6,"s":"r","x":5620000,"y":1.26e-4},{"T":3.16e-6,"s":"r","x":8910000,"y":2.51e-9},
{"T":3.16e-6,"s":"d","x":115,"y":0.38},{"T":3.16e-6,"s":"d","x":22900,"y":2.51e-9},
{"T":1e-6,"s":"l","x":-3160000,"y":2.51e-9},{"T":1e-6,"s":"l","x":-2820000,"y":5.37e-4},{"T":1e-6,"s":"l","x":-2000000,"y":1.35e-4},{"T":1e-6,"s":"l","x":-1410000,"y":4.27e-4},{"T":1e-6,"s":"l","x":-214,"y":9.12e-4},{"T":1e-6,"s":"l","x":-1e-4,"y":1.15},{"T":1e-6,"s":"l","x":-1e-5,"y":3.16},{"T":1e-6,"s":"l","x":-1e-7,"y":3.72},
{"T":1e-6,"s":"r","x":1e-7,"y":18.6},{"T":1e-6,"s":"r","x":0.126,"y":0.178},{"T":1e-6,"s":"r","x":0.5,"y":0.316},{"T":1e-6,"s":"r","x":2,"y":0.417},{"T":1e-6,"s":"r","x":1.41e6,"y":0.417},{"T":1e-6,"s":"r","x":1.48e6,"y":1.26e-4},{"T":1e-6,"s":"r","x":1.78e7,"y":1.26e-4},{"T":1e-6,"s":"r","x":2.82e7,"y":2.51e-9},
{"T":1e-6,"s":"d","x":501,"y":0.38},{"T":1e-6,"s":"d","x":100000,"y":2.51e-9},
{"T":3.16e-7,"s":"l","x":-8.91e6,"y":2.51e-9},{"T":3.16e-7,"s":"l","x":-7.94e6,"y":3.02e-4},{"T":3.16e-7,"s":"l","x":-5.62e6,"y":7.59e-5},{"T":3.16e-7,"s":"l","x":-3.98e6,"y":2.4e-4},{"T":3.16e-7,"s":"l","x":-708,"y":5.01e-4},{"T":3.16e-7,"s":"l","x":-1e-4,"y":1.15},{"T":3.16e-7,"s":"l","x":-1e-5,"y":3.16},{"T":3.16e-7,"s":"l","x":-1e-7,"y":3.72},
{"T":3.16e-7,"s":"r","x":1e-7,"y":18.6},{"T":3.16e-7,"s":"r","x":0.126,"y":0.178},{"T":3.16e-7,"s":"r","x":0.5,"y":0.316},{"T":3.16e-7,"s":"r","x":2,"y":0.417},{"T":3.16e-7,"s":"r","x":4.47e6,"y":0.417},{"T":3.16e-7,"s":"r","x":4.68e6,"y":1.26e-4},{"T":3.16e-7,"s":"r","x":5.62e7,"y":1.26e-4},{"T":3.16e-7,"s":"r","x":8.91e7,"y":2.51e-9},
{"T":3.16e-7,"s":"d","x":2190,"y":0.38},{"T":3.16e-7,"s":"d","x":437000,"y":2.51e-9},
{"T":1e-7,"s":"l","x":-2.24e7,"y":2.51e-9},{"T":1e-7,"s":"l","x":-2e7,"y":1.74e-4},{"T":1e-7,"s":"l","x":-1.41e7,"y":4.37e-5},{"T":1e-7,"s":"l","x":-1e7,"y":1.38e-4},{"T":1e-7,"s":"l","x":-2290,"y":2.82e-4},{"T":1e-7,"s":"l","x":-1e-4,"y":1.15},{"T":1e-7,"s":"l","x":-1e-5,"y":3.16},{"T":1e-7,"s":"l","x":-1e-7,"y":3.72},
{"T":1e-7,"s":"r","x":1e-7,"y":18.6},{"T":1e-7,"s":"r","x":0.126,"y":0.178},{"T":1e-7,"s":"r","x":0.5,"y":0.316},{"T":1e-7,"s":"r","x":2,"y":0.417},{"T":1e-7,"s":"r","x":1.41e7,"y":0.417},{"T":1e-7,"s":"r","x":1.48e7,"y":1.26e-4},{"T":1e-7,"s":"r","x":1.78e8,"y":1.26e-4},{"T":1e-7,"s":"r","x":2.82e8,"y":2.51e-9},
{"T":1e-7,"s":"d","x":9550,"y":0.38},{"T":1e-7,"s":"d","x":1.91e6,"y":2.51e-9},
{"T":3.16e-8,"s":"l","x":-6.31e7,"y":2.51e-9},{"T":3.16e-8,"s":"l","x":-5.62e7,"y":9.77e-5},{"T":3.16e-8,"s":"l","x":-3.98e7,"y":2.45e-5},{"T":3.16e-8,"s":"l","x":-2.82e7,"y":7.76e-5},{"T":3.16e-8,"s":"l","x":-7590,"y":1.58e-4},{"T":3.16e-8,"s":"l","x":-1e-4,"y":1.15},{"T":3.16e-8,"s":"l","x":-1e-5,"y":3.16},{"T":3.16e-8,"s":"l","x":-1e-7,"y":3.72},
{"T":3.16e-8,"s":"r","x":1e-7,"y":18.6},{"T":3.16e-8,"s":"r","x":0.126,"y":0.178},{"T":3.16e-8,"s":"r","x":0.5,"y":0.316},{"T":3.16e-8,"s":"r","x":2,"y":0.417},{"T":3.16e-8,"s":"r","x":4.47e7,"y":0.417},{"T":3.16e-8,"s":"r","x":4.68e7,"y":1.26e-4},{"T":3.16e-8,"s":"r","x":5.62e8,"y":1.26e-4},{"T":3.16e-8,"s":"r","x":8.91e8,"y":2.51e-9},
{"T":3.16e-8,"s":"d","x":41700,"y":0.38},{"T":3.16e-8,"s":"d","x":8.32e6,"y":2.51e-9},
{"T":1e-8,"s":"l","x":-1.78e8,"y":2.51e-9},{"T":1e-8,"s":"l","x":-1.58e8,"y":5.62e-5},{"T":1e-8,"s":"l","x":-1.12e8,"y":1.41e-5},{"T":1e-8,"s":"l","x":-7.94e7,"y":4.47e-5},{"T":1e-8,"s":"l","x":-24000,"y":8.91e-5},{"T":1e-8,"s":"l","x":-1e-4,"y":1.15},{"T":1e-8,"s":"l","x":-1e-5,"y":3.16},{"T":1e-8,"s":"l","x":-1e-7,"y":3.72},
{"T":1e-8,"s":"r","x":1e-7,"y":18.6},{"T":1e-8,"s":"r","x":0.126,"y":0.178},{"T":1e-8,"s":"r","x":0.5,"y":0.316},{"T":1e-8,"s":"r","x":2,"y":0.417},{"T":1e-8,"s":"r","x":1.58e8,"y":0.417},{"T":1e-8,"s":"r","x":1.66e8,"y":1.26e-4},{"T":1e-8,"s":"r","x":2e9,"y":1.26e-4},{"T":1e-8,"s":"r","x":3.16e9,"y":2.51e-9},
{"T":1e-8,"s":"d","x":182000,"y":0.38},{"T":1e-8,"s":"d","x":3.63e7,"y":2.51e-9},
{"T":1e-8,"s":"g","x":158,"y":2.51e-9},{"T":1e-8,"s":"g","x":2e6,"y":0.417},
{"T":3.16e-9,"s":"l","x":-4.47e8,"y":2.51e-9},{"T":3.16e-9,"s":"l","x":-3.98e8,"y":3.16e-5},{"T":3.16e-9,"s":"l","x":-2.82e8,"y":7.94e-6},{"T":3.16e-9,"s":"l","x":-2e8,"y":2.51e-5},{"T":3.16e-9,"s":"l","x":-81300,"y":4.9e-5},{"T":3.16e-9,"s":"l","x":-1e-4,"y":1.15},{"T":3.16e-9,"s":"l","x":-1e-5,"y":3.16},{"T":3.16e-9,"s":"l","x":-1e-7,"y":3.72},
{"T":3.16e-9,"s":"r","x":1e-7,"y":18.6},{"T":3.16e-9,"s":"r","x":0.126,"y":0.178},{"T":3.16e-9,"s":"r","x":0.5,"y":0.316},{"T":3.16e-9,"s":"r","x":2,"y":0.417},{"T":3.16e-9,"s":"r","x":5.01e8,"y":0.417},{"T":3.16e-9,"s":"r","x":5.25e8,"y":1.26e-4},{"T":3.16e-9,"s":"r","x":6.31e9,"y":1.26e-4},{"T":3.16e-9,"s":"r","x":1e10,"y":2.51e-9},
{"T":3.16e-9,"s":"d","x":794000,"y":0.38},{"T":3.16e-9,"s":"d","x":1.58e8,"y":2.51e-9},
{"T":3.16e-9,"s":"g","x":501,"y":2.51e-9},{"T":3.16e-9,"s":"g","x":6.31e6,"y":0.417},
{"T":1e-9,"s":"l","x":-1.26e9,"y":2.51e-9},{"T":1e-9,"s":"l","x":-1.12e9,"y":1.82e-5},{"T":1e-9,"s":"l","x":-7.94e8,"y":4.57e-6},{"T":1e-9,"s":"l","x":-5.62e8,"y":1.45e-5},{"T":1e-9,"s":"l","x":-251000,"y":2.82e-5},{"T":1e-9,"s":"l","x":-1e-4,"y":1.15},{"T":1e-9,"s":"l","x":-1e-5,"y":3.16},{"T":1e-9,"s":"l","x":-1e-7,"y":3.72},
{"T":1e-9,"s":"r","x":1e-7,"y":18.6},{"T":1e-9,"s":"r","x":0.126,"y":0.178},{"T":1e-9,"s":"r","x":0.562,"y":0.00631},{"T":1e-9,"s":"r","x":2.51,"y":6.31e-5},{"T":1e-9,"s":"r","x":12.6,"y":2.51e-9},
{"T":1e-9,"s":"g","x":1580,"y":2.51e-9},{"T":1e-9,"s":"g","x":2e7,"y":0.417},{"T":1e-9,"s":"g","x":1.58e9,"y":0.417},{"T":1e-9,"s":"g","x":1.66e9,"y":1.26e-4},{"T":1e-9,"s":"g","x":2e10,"y":1.26e-4},{"T":1e-9,"s":"g","x":3.16e10,"y":2.51e-9},
{"T":3.16e-10,"s":"l","x":-3.16e9,"y":2.51e-9},{"T":3.16e-10,"s":"l","x":-2.82e9,"y":1.02e-5},{"T":3.16e-10,"s":"l","x":-2e9,"y":2.57e-6},{"T":3.16e-10,"s":"l","x":-1.41e9,"y":8.13e-6},{"T":3.16e-10,"s":"l","x":-871000,"y":1.55e-5},{"T":3.16e-10,"s":"l","x":-1e-4,"y":1.15},{"T":3.16e-10,"s":"l","x":-1e-5,"y":3.16},{"T":3.16e-10,"s":"l","x":-1e-7,"y":3.72},
{"T":3.16e-10,"s":"r","x":1e-7,"y":18.6},{"T":3.16e-10,"s":"r","x":0.126,"y":0.178},{"T":3.16e-10,"s":"r","x":0.631,"y":0.00501},{"T":3.16e-10,"s":"r","x":2,"y":2.51e-4},{"T":3.16e-10,"s":"r","x":6.31,"y":3.98e-5},{"T":3.16e-10,"s":"r","x":39.8,"y":2.51e-9},
{"T":3.16e-10,"s":"g","x":6310,"y":2.51e-9},{"T":3.16e-10,"s":"g","x":7.94e7,"y":0.417},{"T":3.16e-10,"s":"g","x":5.01e9,"y":0.417},{"T":3.16e-10,"s":"g","x":5.25e9,"y":1.26e-4},{"T":3.16e-10,"s":"g","x":6.31e10,"y":1.26e-4},{"T":3.16e-10,"s":"g","x":1e11,"y":2.51e-9},
{"T":1e-10,"s":"l","x":-8.91e9,"y":2.51e-9},{"T":1e-10,"s":"l","x":-7.94e9,"y":5.89e-6},{"T":1e-10,"s":"l","x":-5.62e9,"y":1.48e-6},{"T":1e-10,"s":"l","x":-3.98e9,"y":4.68e-6},{"T":1e-10,"s":"l","x":-2.75e6,"y":8.71e-6},{"T":1e-10,"s":"l","x":-1e-4,"y":1.15},{"T":1e-10,"s":"l","x":-1e-5,"y":3.16},{"T":1e-10,"s":"l","x":-1e-7,"y":3.72},
{"T":1e-10,"s":"r","x":1e-7,"y":18.6},{"T":1e-10,"s":"r","x":0.126,"y":0.178},{"T":1e-10,"s":"r","x":0.5,"y":0.01},{"T":1e-10,"s":"r","x":3.98,"y":2.51e-9},
{"T":1e-10,"s":"g","x":22400,"y":2.51e-9},{"T":1e-10,"s":"g","x":2.82e8,"y":0.417},{"T":1e-10,"s":"g","x":1.58e10,"y":0.417},{"T":1e-10,"s":"g","x":1.66e10,"y":1.26e-4},{"T":1e-10,"s":"g","x":2e11,"y":1.26e-4},{"T":1e-10,"s":"g","x":3.16e11,"y":2.51e-9}
]
},
"vconcat":[
{"width":584,"height":9,"view":{"stroke":null},
 "data":{"values":[{"a":1e-10,"b":0.01}]},
 "mark":{"type":"rect","stroke":"black","strokeWidth":0.8,"color":{"gradient":"linear","x1":0,"y1":0,"x2":1,"y2":0,"stops":[{"offset":0,"color":"#3b4cc0"},{"offset":0.125,"color":"#6282ea"},{"offset":0.25,"color":"#8db0fe"},{"offset":0.375,"color":"#b9d0f9"},{"offset":0.5,"color":"#dddddd"},{"offset":0.625,"color":"#f5c4ac"},{"offset":0.75,"color":"#f49a7b"},{"offset":0.875,"color":"#de614d"},{"offset":1,"color":"#b40426"}]}},
 "encoding":{"x":{"field":"a","type":"quantitative","scale":{"type":"log","domain":[1e-10,0.01],"nice":false},
   "axis":{"orient":"top","values":[1e-10,1e-9,1e-8,1e-7,1e-5,1e-4,1e-3,1e-2],"labelExpr":"datum.value<5e-10?'10⁻¹⁰':datum.value<5e-9?'10⁻⁹':datum.value<5e-8?'10⁻⁸':datum.value<5e-7?'10⁻⁷':datum.value<5e-5?'10⁻⁵':datum.value<5e-4?'10⁻⁴':datum.value<5e-3?'10⁻³':'10⁻²'","labelFontSize":11,"tickSize":4,"labelPadding":4,"grid":false,"title":"T","titleFont":"Liberation Serif","titleFontSize":21,"titleFontStyle":"italic","titleY":-9,"titleBaseline":"bottom"}},
  "x2":{"field":"b"}}},
{"width":584,"height":86,
 "layer":[
  {"data":{"name":"a"},"mark":{"type":"line","clip":true,"interpolate":"monotone","strokeWidth":1.3},
   "encoding":{"x":{"field":"x","type":"quantitative","scale":{"type":"symlog","constant":1.2e-5,"domain":[-1e12,1e12],"nice":false},"axis":{"values":[-1e12,-1e9,-1e6,-1000,-1,-0.001,0.001,1,1000,1e6,1e9,1e12],"labels":false,"title":null,"grid":true,"tickSize":4}},
    "y":{"field":"y","type":"quantitative","scale":{"type":"log","domain":[0.00355,35500],"nice":false},"axis":{"values":[1,1000],"labelExpr":"datum.value<10?'10⁰':'10³'","title":"ρf(ω)Tᵅ","titleFontSize":16,"titleFontStyle":"italic","grid":true,"tickSize":3,"titlePadding":6}},
    "color":{"field":"T","type":"quantitative","scale":{"type":"log","domain":[1e-10,1e-9,1e-8,1e-7,1e-6,1e-5,1e-4,1e-3,1e-2],"range":["#3b4cc0","#6282ea","#8db0fe","#b9d0f9","#dddddd","#f5c4ac","#f49a7b","#de614d","#b40426"]},"legend":null},
    "detail":{"field":"s"}}},
  {"mark":{"type":"rule","strokeDash":[3,2],"color":"black","strokeWidth":1},"encoding":{"x":{"datum":0,"type":"quantitative"}}},
  {"data":{"values":[{"x":-830000,"y":392},{"x":-0.0462,"y":0.087}]},"mark":{"type":"line","strokeDash":[5,3],"color":"black","strokeWidth":1.1},"encoding":{"x":{"field":"x","type":"quantitative"},"y":{"field":"y","type":"quantitative"}}},
  {"data":{"values":[{"x1":-0.00151,"x2":3.12e-4,"y1":28.8,"y2":7800}]},"mark":{"type":"rect","fill":"white","stroke":"black","strokeWidth":1,"cornerRadius":5},"encoding":{"x":{"field":"x1","type":"quantitative"},"x2":{"field":"x2"},"y":{"field":"y1","type":"quantitative"},"y2":{"field":"y2"}}},
  {"data":{"values":[{"x":-1.47e-5,"y":479,"t":"α = −½"},{"x":-14.5,"y":72.6,"t":"∝ |ω|¹/²"}]},"mark":{"type":"text","font":"Liberation Serif","fontSize":18,"fontStyle":"italic","fontWeight":"normal","color":"#222"},"encoding":{"x":{"field":"x","type":"quantitative"},"y":{"field":"y","type":"quantitative"},"text":{"field":"t"}}},
  {"data":{"values":[{"x":-4.68e11,"y":2100,"t":"(a)"}]},"mark":{"type":"text","font":"DejaVu Sans","fontSize":13,"align":"left","color":"#222"},"encoding":{"x":{"field":"x","type":"quantitative"},"y":{"field":"y","type":"quantitative"},"text":{"field":"t"}}}
 ]},
{"width":584,"height":85,
 "layer":[
  {"layer":[
   {"data":{"name":"b"},"mark":{"type":"line","clip":true,"interpolate":"monotone","strokeWidth":1.3},
    "encoding":{"x":{"field":"x","type":"quantitative","scale":{"type":"symlog","constant":1.2e-5,"domain":[-1e12,1e12],"nice":false},"axis":{"values":[-1e12,-1e9,-1e6,-1000,-1,-0.001,0.001,1,1000,1e6,1e9,1e12],"labels":false,"title":null,"grid":true,"tickSize":4}},
     "y":{"field":"y","type":"quantitative","scale":{"type":"log","domain":[0.000851,117500],"nice":false},"axis":{"values":[0.001,1,1000],"labelExpr":"datum.value<0.01?'10⁻³':datum.value<10?'10⁰':'10³'","title":"−ℑΔ(ω)Tᵅ","titleFontSize":16,"titleFontStyle":"italic","grid":true,"tickSize":3,"titlePadding":6}},
     "color":{"field":"T","type":"quantitative","scale":{"type":"log","domain":[1e-10,1e-9,1e-8,1e-7,1e-6,1e-5,1e-4,1e-3,1e-2],"range":["#3b4cc0","#6282ea","#8db0fe","#b9d0f9","#dddddd","#f5c4ac","#f49a7b","#de614d","#b40426"]},"legend":null},
     "detail":{"field":"s"}}},
   {"mark":{"type":"rule","strokeDash":[3,2],"color":"black","strokeWidth":1},"encoding":{"x":{"datum":0,"type":"quantitative"}}},
   {"data":{"values":[{"x":-830000,"y":3720},{"x":-0.0462,"y":0.676}]},"mark":{"type":"line","strokeDash":[5,3],"color":"black","strokeWidth":1.1},"encoding":{"x":{"field":"x","type":"quantitative"},"y":{"field":"y","type":"quantitative"}}},
   {"data":{"values":[{"x1":-0.00151,"x2":3.12e-4,"y1":46.7,"y2":23400}]},"mark":{"type":"rect","fill":"white","stroke":"black","strokeWidth":1,"cornerRadius":5},"encoding":{"x":{"field":"x1","type":"quantitative"},"x2":{"field":"x2"},"y":{"field":"y1","type":"quantitative"},"y2":{"field":"y2"}}},
   {"data":{"values":[{"x":-1.47e-5,"y":1047,"t":"α = −½"},{"x":-24.6,"y":347,"t":"∝ |ω|¹/²"}]},"mark":{"type":"text","font":"Liberation Serif","fontSize":18,"fontStyle":"italic","fontWeight":"normal","color":"#222"},"encoding":{"x":{"field":"x","type":"quantitative"},"y":{"field":"y","type":"quantitative"},"text":{"field":"t"}}},
   {"data":{"values":[{"x":-4.68e11,"y":8300,"t":"(b)"}]},"mark":{"type":"text","font":"DejaVu Sans","fontSize":13,"align":"left","color":"#222"},"encoding":{"x":{"field":"x","type":"quantitative"},"y":{"field":"y","type":"quantitative"},"text":{"field":"t"}}}
  ]},
  {"layer":[
   {"data":{"values":[{"x1":1e-10,"x2":4e-4,"y1":7.9e-14,"y2":0.5}]},"mark":{"type":"rect","fill":"white","stroke":"black","strokeWidth":1.2},
    "encoding":{"x":{"field":"x1","type":"quantitative","scale":{"type":"log","domain":[1e-10,4e-4],"range":[487,582],"nice":false},"axis":{"orient":"bottom","offset":-20,"values":[1e-10,1e-7,1e-4],"labelExpr":"datum.value<1e-9?'10⁻¹⁰':datum.value<1e-6?'10⁻⁷':'10⁻⁴'","labelFontSize":8,"tickSize":2,"labelPadding":1,"grid":false,"title":"ω","titleFontSize":8,"titleFontStyle":"italic","titlePadding":0}},
     "x2":{"field":"x2"},
     "y":{"field":"y1","type":"quantitative","scale":{"type":"log","domain":[7.9e-14,0.5],"range":[65,5],"nice":false},"axis":{"orient":"left","offset":-487,"values":[1e-9,1e-4],"labelExpr":"datum.value<1e-6?'10⁻⁹':'10⁻⁴'","labelFontSize":8,"tickSize":2,"labelPadding":1,"grid":false,"title":"−ℑΔ(ω)","titleFontSize":9,"titlePadding":1}},
     "y2":{"field":"y2"}}},
   {"data":{"name":"ins"},"mark":{"type":"line","interpolate":"monotone","strokeWidth":1.2},
    "encoding":{"x":{"field":"x","type":"quantitative"},"y":{"field":"y","type":"quantitative"},
     "color":{"field":"T","type":"quantitative","scale":{"type":"log","domain":[1e-10,1e-9,1e-8,1e-7,1e-6,1e-5,1e-4,1e-3,1e-2],"range":["#3b4cc0","#6282ea","#8db0fe","#b9d0f9","#dddddd","#f5c4ac","#f49a7b","#de614d","#b40426"]},"legend":null}}}
  ]}
 ],
 "resolve":{"scale":{"x":"independent","y":"independent"},"axis":{"x":"independent","y":"independent"}}},
{"width":584,"height":85,
 "layer":[
  {"data":{"name":"c"},"mark":{"type":"line","clip":true,"interpolate":"monotone","strokeWidth":1.3},
   "encoding":{"x":{"field":"x","type":"quantitative","scale":{"type":"symlog","constant":1.2e-5,"domain":[-1e12,1e12],"nice":false},"axis":{"values":[-1e12,-1e9,-1e6,-1000,-1,-0.001,0.001,1,1000,1e6,1e9,1e12],"labelExpr":"datum.value<-1e10?'−10¹²':datum.value<-1e7?'−10⁹':datum.value<-1e4?'−10⁶':datum.value<-10?'−10³':datum.value<-0.01?'−10⁰':datum.value<0?'−10⁻³':datum.value<0.01?'10⁻³':datum.value<10?'10⁰':datum.value<1e4?'10³':datum.value<1e7?'10⁶':datum.value<1e10?'10⁹':'10¹²'","labelFontSize":10.5,"labelPadding":1,"title":"ω/T","titleFont":"Liberation Serif","titleFontSize":21,"titleFontStyle":"italic","titlePadding":-3,"grid":true,"tickSize":4}},
    "y":{"field":"y","type":"quantitative","scale":{"type":"log","domain":[4.57e-9,151],"nice":false},"axis":{"values":[1e-5,0.1],"labelExpr":"datum.value<1e-3?'10⁻⁵':'10⁻¹'","title":"ρc₁(ω)Tᵅ","titleFontSize":16,"titleFontStyle":"italic","grid":true,"tickSize":3,"titlePadding":6}},
    "color":{"field":"T","type":"quantitative","scale":{"type":"log","domain":[1e-10,1e-9,1e-8,1e-7,1e-6,1e-5,1e-4,1e-3,1e-2],"range":["#3b4cc0","#6282ea","#8db0fe","#b9d0f9","#dddddd","#f5c4ac","#f49a7b","#de614d","#b40426"]},"legend":null},
    "detail":{"field":"s"}}},
  {"mark":{"type":"rule","strokeDash":[3,2],"color":"black","strokeWidth":1},"encoding":{"x":{"datum":0,"type":"quantitative"}}},
  {"data":{"values":[{"g":1,"x":-830000,"y":7.6e-6},{"g":1,"x":-1.2e-4,"y":0.89},{"g":2,"x":3.7e-6,"y":6.03},{"g":2,"x":0.119,"y":0.063}]},"mark":{"type":"line","strokeDash":[5,3],"color":"black","strokeWidth":1.1},"encoding":{"x":{"field":"x","type":"quantitative"},"y":{"field":"y","type":"quantitative"},"detail":{"field":"g"}}},
  {"data":{"values":[{"x1":-0.162,"x2":-2.46e-4,"y1":1e-8,"y2":1.91e-5},{"x1":1.04e-4,"x2":0.0914,"y1":1e-8,"y2":1.91e-5}]},"mark":{"type":"rect","fill":"white","stroke":"black","strokeWidth":1,"cornerRadius":5},"encoding":{"x":{"field":"x1","type":"quantitative"},"x2":{"field":"x2"},"y":{"field":"y1","type":"quantitative"},"y2":{"field":"y2"}}},
  {"data":{"values":[{"x":-0.00633,"y":4.37e-7,"t":"α = ½"},{"x":0.00324,"y":4.37e-7,"t":"α = 0"},{"x":-0.0467,"y":5.37e-4,"t":"∝ |ω|⁻¹/²"},{"x":0.155,"y":20.4,"t":"∝ ω⁻¹/²"}]},"mark":{"type":"text","font":"Liberation Serif","fontSize":18,"fontStyle":"italic","fontWeight":"normal","color":"#222"},"encoding":{"x":{"field":"x","type":"quantitative"},"y":{"field":"y","type":"quantitative"},"text":{"field":"t"}}},
  {"data":{"values":[{"x":-4.68e11,"y":2.1,"t":"(c)"}]},"mark":{"type":"text","font":"DejaVu Sans","fontSize":13,"align":"left","color":"#222"},"encoding":{"x":{"field":"x","type":"quantitative"},"y":{"field":"y","type":"quantitative"},"text":{"field":"t"}}}
 ]}
],
"spacing":5,
"bounds":"flush"
}
